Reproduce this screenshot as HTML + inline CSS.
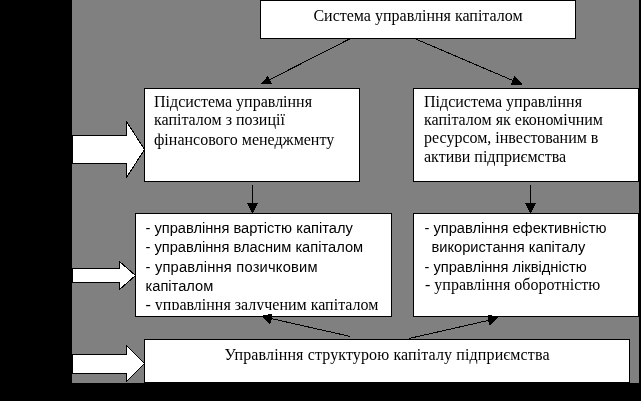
<!DOCTYPE html>
<html><head><meta charset="utf-8">
<style>
html,body{margin:0;padding:0;background:#000;width:641px;height:401px;overflow:hidden}
svg{display:block}
.s{font-family:"Liberation Serif",serif;font-size:16px;fill:#000}
.a{font-family:"Liberation Sans",sans-serif;font-size:14.67px;fill:#000}
</style></head><body>
<svg width="641" height="401" viewBox="0 0 641 401">
<defs>
<filter id="gr" x="0" y="0" width="641" height="401" filterUnits="userSpaceOnUse"><feComponentTransfer><feFuncA type="identity"/></feComponentTransfer></filter>
<clipPath id="c1"><rect x="136" y="214" width="255" height="96"/></clipPath>
</defs>
<rect x="0" y="0" width="641" height="401" fill="#000"/>
<rect x="72" y="0" width="567" height="383" fill="#808080"/>
<g shape-rendering="crispEdges" fill="#fff" stroke="#000" stroke-width="1">
<rect x="260.5" y="0.5" width="315" height="38"/>
<rect x="144.5" y="88.5" width="215" height="93"/>
<rect x="413.5" y="88.5" width="225" height="93"/>
<rect x="135.5" y="213.5" width="256" height="103"/>
<rect x="413.5" y="213.5" width="225" height="103"/>
<rect x="144.5" y="339.5" width="485" height="43"/>
</g>
<g fill="#fff" stroke="#000" stroke-width="1" shape-rendering="crispEdges">
<polygon points="72.5,135.5 126.5,135.5 126.5,121.5 144.5,149.5 126.5,177.5 126.5,163.5 72.5,163.5"/>
<polygon points="72.5,268.5 119.5,268.5 119.5,261.5 135.5,275.5 119.5,289.5 119.5,282.5 72.5,282.5"/>
<polygon points="72.5,354.5 126.5,354.5 126.5,345.5 144.5,363.5 126.5,381.5 126.5,373.5 72.5,373.5"/>
</g>
<g stroke="#000" stroke-width="1" fill="none" shape-rendering="crispEdges">
<line x1="350.5" y1="38.5" x2="268" y2="80.5"/>
<line x1="414.5" y1="38.5" x2="514" y2="81"/>
<line x1="252.5" y1="185" x2="252.5" y2="204"/>
<line x1="530.5" y1="185" x2="530.5" y2="204"/>
<line x1="350.5" y1="336.5" x2="271" y2="318.5"/>
<line x1="409" y1="338.5" x2="488" y2="320.5"/>
</g>
<g fill="#000" shape-rendering="crispEdges">
<polygon points="261,84 272,84 268,75.5"/>
<polygon points="522.5,84.5 511,84.5 514.5,75.5"/>
<polygon points="247,203 258,203 252.5,213.5"/>
<polygon points="525,203 536,203 530.5,213.5"/>
<polygon points="261,316 272,313.5 272,319 270,324.5"/>
<polygon points="488,314.5 499,317 489.5,325.5 488,320"/>
</g>
<g filter="url(#gr)">
<text class="s" x="418" y="21" text-anchor="middle">Система управління капіталом</text>
<text class="s" x="154" y="107">Підсистема управління</text>
<text class="s" x="154" y="125">капіталом з позиції</text>
<text class="s" x="154" y="145">фінансового менеджменту</text>
<text class="s" x="424" y="107">Підсистема управління</text>
<text class="s" x="424" y="125">капіталом як економічним</text>
<text class="s" x="424" y="143">ресурсом, інвестованим в</text>
<text class="s" x="424" y="162">активи підприємства</text>
<g clip-path="url(#c1)">
<text class="a" x="145.5" y="233">- управління вартістю капіталу</text>
<text class="a" x="145.5" y="252">- управління власним капіталом</text>
<text class="a" x="145.5" y="272" textLength="172" lengthAdjust="spacing">- управління позичковим</text>
<text class="a" x="145.5" y="291">капіталом</text>
<text class="s" x="145.5" y="310">- управління залученим капіталом</text>
</g>
<text class="a" x="424.5" y="233">- управління ефективністю</text>
<text class="a" x="431.5" y="252">використання капіталу</text>
<text class="a" x="424.5" y="272">- управління ліквідністю</text>
<text class="s" x="425" y="290">- управління оборотністю</text>
<text class="s" x="387" y="360" text-anchor="middle" textLength="325" lengthAdjust="spacing">Управління структурою капіталу підприємства</text>
</g>
</svg>
</body></html>
